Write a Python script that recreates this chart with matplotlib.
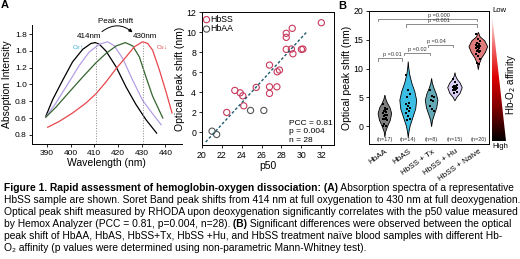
import matplotlib
matplotlib.use("Agg")
import matplotlib.pyplot as plt
import numpy as np
from matplotlib.colors import LinearSegmentedColormap
from matplotlib.patches import Polygon, FancyArrowPatch

plt.rcParams["font.family"] = ["Liberation Sans", "DejaVu Sans"]

# ---- panel A: absorption spectra (y in axis position units)
wl_black = [389.5, 392.4, 396.6, 400.8, 405.1, 408.6, 410.4, 412.1, 414.9, 419.2, 423.4, 427.6, 431.8, 436.3]
ab_black = [0.82, 1.02, 1.25, 1.47, 1.62, 1.69, 1.70, 1.68, 1.60, 1.41, 1.17, 0.96, 0.78, 0.62]
wl_purple = [389.5, 393.8, 398.0, 403.7, 407.9, 412.1, 415.6, 418.5, 422.0, 426.2, 430.4, 434.6, 438.2]
ab_purple = [0.81, 0.98, 1.17, 1.43, 1.59, 1.68, 1.71, 1.66, 1.51, 1.25, 1.01, 0.85, 0.72]
wl_green = [389.5, 393.8, 399.4, 405.1, 410.7, 414.9, 419.2, 423.1, 426.2, 429.0, 431.8, 434.6, 438.9]
ab_green = [0.81, 0.93, 1.11, 1.29, 1.46, 1.57, 1.66, 1.70, 1.66, 1.53, 1.29, 1.06, 0.80]
wl_red = [390.3, 395.2, 400.8, 406.5, 410.7, 414.9, 419.2, 423.4, 426.9, 430.4, 432.5, 434.6, 437.5, 440.4, 442.8]
ab_red = [0.69, 0.76, 0.86, 0.98, 1.09, 1.23, 1.39, 1.53, 1.65, 1.71, 1.69, 1.61, 1.37, 1.10, 0.86]
peak_lines = [410.8, 430.6]
a_yticks = [0.6, 0.8, 1.0, 1.2, 1.4, 1.6, 1.8]
a_yticklabels = ["0.8", "0.6", "0.8", "1.0", "1.2", "1.6", "1.8"]
a_xticks = [390, 400, 410, 420, 430, 440]

# ---- panel A right: optical peak shift vs p50
ss_p50 = [32.0, 29.08, 28.48, 28.48, 28.48, 29.0, 29.15, 30.0, 30.15, 26.8, 27.8, 27.57,
          25.47, 26.8, 26.8, 27.54, 23.32, 23.86, 24.12, 24.22, 22.51]
ss_shift = [10.96, 10.4, 9.9, 9.5, 8.3, 8.33, 7.86, 8.3, 8.33, 6.73, 6.23, 6.06,
            4.5, 4.56, 3.9, 4.56, 4.2, 3.96, 3.66, 2.66, 2.0]
aa_p50 = [24.9, 26.23, 21.04, 21.5]
aa_shift = [2.2, 2.2, 0.13, -0.2]
fit_x = [20.4, 30.5]
fit_y = [-0.95, 10.0]

# ---- panel B: groups
groups = ["HbAA", "HbAS", "HbSS + Tx", "HbSS + Hu", "HbSS + Naive"]
group_n = ["(n=17)", "(n=14)", "(n=8)", "(n=15)", "(n=20)"]
group_colors = ["#7f7f7f", "#3cbde3", "#62a9b5", "#d9cdf5", "#e07b7b"]
dots_aa = [3.8, 3.2, 2.9, 2.6, 2.4, 2.2, 2.0, 1.9, 1.7, 1.5, 1.3, 1.2, 1.0, 0.4, 0.1, 0.0, 2.8]
dots_as = [8.9, 6.3, 5.5, 5.0, 4.0, 3.8, 3.5, 3.2, 3.0, 2.6, 2.2, 1.8, 1.2, 1.0]
dots_tx = [6.2, 5.3, 5.0, 4.6, 4.3, 3.5, 2.9, 2.6]
dots_hu = [8.2, 7.6, 7.2, 7.0, 6.9, 6.8, 6.7, 6.6, 6.5, 6.4, 6.3, 6.2, 6.0, 5.8, 6.9]
dots_nv = [16.0, 15.2, 14.8, 14.5, 14.3, 14.1, 14.0, 13.9, 13.8, 13.6, 13.5, 13.3, 13.1,
           13.0, 12.8, 12.5, 12.2, 11.6, 11.0, 10.8]
# violin outlines (level, half width)
prof_aa_y = [-1.9, -1.0, 0.0, 1.0, 2.2, 3.2, 4.0, 4.7, 5.4]
prof_aa_w = [0.0, 0.03, 0.12, 0.23, 0.29, 0.22, 0.11, 0.04, 0.0]
prof_as_y = [-2.0, -1.0, 0.0, 1.5, 3.0, 4.5, 6.0, 7.5, 9.0, 10.2, 11.2]
prof_as_w = [0.0, 0.03, 0.08, 0.2, 0.32, 0.36, 0.28, 0.15, 0.06, 0.02, 0.0]
prof_tx_y = [-0.1, 1.0, 2.0, 3.2, 4.5, 5.6, 6.6, 7.5, 8.3]
prof_tx_w = [0.0, 0.04, 0.12, 0.22, 0.27, 0.2, 0.1, 0.03, 0.0]
prof_hu_y = [4.4, 5.0, 5.7, 6.7, 7.5, 8.1, 8.7, 9.3]
prof_hu_w = [0.0, 0.08, 0.22, 0.31, 0.22, 0.1, 0.03, 0.0]
prof_nv_y = [9.8, 10.8, 11.8, 12.8, 13.8, 14.8, 15.5, 16.3]
prof_nv_w = [0.0, 0.04, 0.14, 0.3, 0.4, 0.28, 0.08, 0.0]
# significance brackets: (x start, x end, level, label)
brk_x0 = [-0.28, 0.9, -0.29, 0.8, 1.85]
brk_x1 = [3.93, 3.93, 0.75, 1.93, 2.93]
brk_y = [18.6, 17.7, 11.8, 12.75, 14.1]
brk_lab = ["p =0.000", "p =0.001", "p =0.01", "p =0.02", "p =0.04"]
brk_tx = [2.3, 2.3, 0.3, 1.38, 2.2]

W, H = 520, 259
fig = plt.figure(figsize=(5.2, 2.59), dpi=100)


def box(l, t, r, b):
    return [l / W, 1 - b / H, (r - l) / W, (b - t) / H]


# ================= Panel A (spectra)
ax1 = fig.add_axes(box(32.3, 25, 181.5, 144))
ax1.plot(wl_black, ab_black, color="black", lw=0.9)
ax1.plot(wl_purple, ab_purple, color="#b49ee6", lw=0.9)
ax1.plot(wl_green, ab_green, color="#35652f", lw=0.9)
ax1.plot(wl_red, ab_red, color="#e8474c", lw=0.9)
for x in peak_lines:
    ax1.plot([x, x], [0.49, 1.70], color="#888888", ls=":", lw=0.7)
ax1.set_xlim(383.8, 446.8)
ax1.set_ylim(0.49, 1.91)
ax1.set_xticks(a_xticks)
ax1.set_yticks(a_yticks)
ax1.set_yticklabels(a_yticklabels)
ax1.spines["top"].set_visible(False)
ax1.spines["right"].set_visible(False)
ax1.tick_params(labelsize=6, length=2.5, width=0.6, pad=1.5)
ax1.set_xlabel("Wavelength (nm)", fontsize=7.5, labelpad=1)
ax1.set_ylabel("Absoption Intensity", fontsize=7.5, labelpad=2)
ax1.text(407.9, 1.77, "414nm", fontsize=5.8, ha="center", va="center")
ax1.text(431.4, 1.77, "430nm", fontsize=5.8, ha="center", va="center")
ax1.text(418.9, 1.95, "Peak shift", fontsize=5.8, ha="center", va="center", clip_on=False)
ax1.text(403.1, 1.64, "O$_2$\u2191", fontsize=4.5, ha="center", va="center", color="#2aa7dc")
ax1.text(438.7, 1.64, "O$_2$\u2193", fontsize=4.5, ha="center", va="center", color="#e8474c")
arr = FancyArrowPatch((412.3, 1.81), (427.0, 1.80), connectionstyle="arc3,rad=-0.45",
                      arrowstyle="-|>", mutation_scale=5, lw=0.7, color="black", clip_on=False)
ax1.add_patch(arr)
for s in ax1.spines.values():
    s.set_linewidth(0.7)

# ================= Panel A (correlation)
ax2 = fig.add_axes(box(201.7, 12.3, 334.3, 145))
ax2.scatter(ss_p50, ss_shift, s=20, facecolors="none", edgecolors="#c83a5c", linewidths=0.8, label="HbSS")
ax2.scatter(aa_p50, aa_shift, s=20, facecolors="none", edgecolors="#555555", linewidths=0.8, label="HbAA")
ax2.plot(fit_x, fit_y, color="#1f5c6e", ls=(0, (2, 1.5)), lw=1.0)
ax2.set_xlim(20, 33.3)
ax2.set_ylim(-1.25, 12)
ax2.set_xticks(range(20, 33, 2))
ax2.set_yticks(range(0, 13, 2))
ax2.tick_params(labelsize=6.3, length=2.5, width=0.6, pad=1.5)
ax2.set_xlabel("p50", fontsize=7.5, labelpad=1)
ax2.set_ylabel("Optical peak shift (nm)", fontsize=7.5, labelpad=1)
ax2.legend(loc="upper left", frameon=False, fontsize=6.3, handlelength=0.5, handletextpad=0.15,
           labelspacing=0.05, borderaxespad=0.2, borderpad=0.1)
ax2.text(0.66, 0.01, "PCC = 0.81\np = 0.004\nn = 28", transform=ax2.transAxes, fontsize=6,
         ha="left", va="bottom", linespacing=1.25)
for s in ax2.spines.values():
    s.set_linewidth(0.7)

# ================= Panel B (violins)
ax3 = fig.add_axes(box(369, 11, 489.3, 144))
profiles = [(prof_aa_y, prof_aa_w), (prof_as_y, prof_as_w), (prof_tx_y, prof_tx_w),
            (prof_hu_y, prof_hu_w), (prof_nv_y, prof_nv_w)]
dot_sets = [dots_aa, dots_as, dots_tx, dots_hu, dots_nv]
for i, ((py, pw), col) in enumerate(zip(profiles, group_colors)):
    py = np.array(py)
    pw = np.array(pw)
    pts = np.column_stack([np.concatenate([i + pw, (i - pw)[::-1]]),
                           np.concatenate([py, py[::-1]])])
    ax3.add_patch(Polygon(pts, closed=True, facecolor=col, edgecolor="black", lw=0.6, zorder=2))
    d = dot_sets[i]
    jit = [((k * 7) % 5 - 2) * 0.045 for k in range(len(d))]
    ax3.scatter(np.array(jit) + i, d, s=2.5, color="black", marker="s", zorder=3, linewidths=0)
    ax3.text(i, -2.4, group_n[i], fontsize=4, ha="center", va="center", color="#333333")
for x0, x1, y, lab, tx in zip(brk_x0, brk_x1, brk_y, brk_lab, brk_tx):
    ax3.plot([x0, x0, x1, x1], [y - 0.4, y, y, y - 0.4], color="#777777", lw=0.6)
    ax3.text(tx, y + 0.2, lab, fontsize=4, ha="center", va="bottom", color="#333333")
ax3.set_xlim(-0.68, 4.47)
ax3.set_ylim(-3.1, 20)
ax3.set_yticks([0, 5, 10, 15, 20])
ax3.set_xticks(range(5))
ax3.set_xticklabels(groups, rotation=35, ha="right", rotation_mode="anchor")
ax3.tick_params(axis="y", labelsize=6.3, length=2.5, width=0.6, pad=1.5)
ax3.tick_params(axis="x", labelsize=5.8, length=0, pad=3)
ax3.set_ylabel("Optical peak shift (nm)", fontsize=7.5, labelpad=1)
for s in ax3.spines.values():
    s.set_linewidth(0.7)

# affinity wedge
ax4 = fig.add_axes(box(492, 14, 506, 141))
cmap = LinearSegmentedColormap.from_list("aff", ["black", "#7a0000", "#dd0000", "#f26b6b", "white"])
grad = np.linspace(0, 1, 256).reshape(-1, 1)
im = ax4.imshow(grad, cmap=cmap, origin="lower", aspect="auto", extent=[0, 1, 0, 1])
tri = Polygon([[0, 1], [0, 0], [1, 0]], closed=True, transform=ax4.transAxes, facecolor="none", edgecolor="none")
ax4.add_patch(tri)
im.set_clip_path(tri)
ax4.axis("off")
fig.text(492 / W, 1 - 11 / H, "Low", fontsize=5.5, ha="left", va="center")
fig.text(492 / W, 1 - 147 / H, "High", fontsize=5.5, ha="left", va="center")
fig.text(511 / W, 1 - 85 / H, "Hb-O$_2$ affinity", fontsize=7, rotation=90, ha="center", va="center")

# panel letters
fig.text(1 / W, 1 - 5 / H, "A", fontsize=8, weight="bold", ha="left", va="center")
fig.text(338 / W, 1 - 6 / H, "B", fontsize=8, weight="bold", ha="left", va="center")

# ================= caption
cap_lines = [
    [("Figure 1. Rapid assessment of hemoglobin-oxygen dissociation: (A)", True),
     (" Absorption spectra of a representative", False)],
    [("HbSS sample are shown. Soret Band peak shifts from 414 nm at full oxygenation to 430 nm at full deoxygenation.", False)],
    [("Optical peak shift measured by RHODA upon deoxygenation significantly correlates with the p50 value measured", False)],
    [("by Hemox Analyzer (PCC = 0.81, p=0.004, n=28).", False), (" (B)", True),
     (" Significant differences were observed between the optical", False)],
    [("peak shift of HbAA, HbAS, HbSS+Tx, HbSS +Hu, and HbSS treatment na\u00efve blood samples with different Hb-", False)],
    [("O\u2082 affinity (p values were determined using non-parametric Mann-Whitney test).", False)],
]
cap_y = [193, 205, 217, 229, 241, 253]
for segs, yb in zip(cap_lines, cap_y):
    prev = None
    for txt, bold in segs:
        w = "bold" if bold else "normal"
        if prev is None:
            prev = fig.text(4 / W, 1 - yb / H, txt, fontsize=7.4, weight=w, ha="left", va="bottom")
        else:
            prev = ax1.annotate(txt, xy=(1, 0), xycoords=prev, fontsize=7.4, weight=w,
                                ha="left", va="bottom", annotation_clip=False)

fig.savefig("out.png", dpi=100)
